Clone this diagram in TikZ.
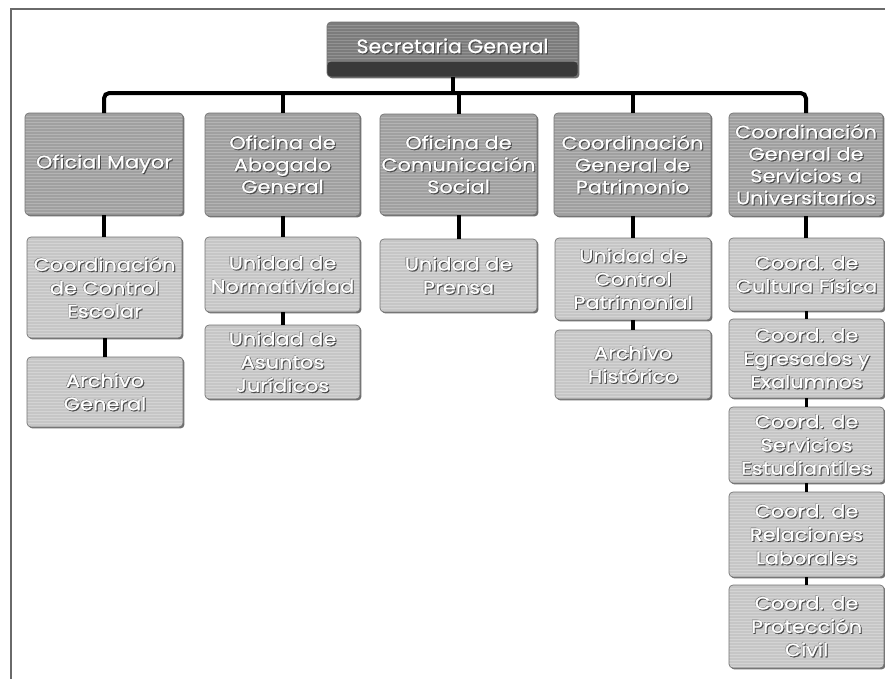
\documentclass[tikz,border=0pt]{standalone}
\usepackage{fontspec}
\newfontfamily\boxfont[FakeStretch=1.16, FakeBold=0.9]{Poppins}
\newfontfamily\topfont[FakeStretch=1.06, FakeBold=0.9]{Poppins}
\usetikzlibrary{shadows}
\definecolor{topfill}{HTML}{7C7C7C}
\definecolor{topband}{HTML}{3A3A3A}
\definecolor{lvlA}{HTML}{A0A0A0}
\definecolor{lvlB}{HTML}{C6C6C6}
\definecolor{tshade}{HTML}{4A4A4A}
\definecolor{framec}{HTML}{6A6A6A}
\newcommand\T[1]{\leavevmode\rlap{\color{tshade}\kern0.8pt\raisebox{-0.8pt}{#1}}\rlap{\color{tshade!70}\kern-0.4pt\raisebox{0.4pt}{#1}}#1}
\newcommand\bx[7]{\node[#6, minimum width={(#4-#2)*0.75pt}, minimum height={(#5-#3)*0.75pt}] (#1) at ({(#2+#4)/2},{(#3+#5)/2}) {#7};}
\tikzset{
  stripes/.style={path picture={\foreach \k in {1,...,45}{\draw[white,opacity=#1,line width=0.5pt] ([yshift=-\k*2.25pt]path picture bounding box.north west) -- ([yshift=-\k*2.25pt]path picture bounding box.north east);}}},
  basebox/.style={rounded corners=3pt, draw=black!55, line width=0.5pt, text=white, align=center,
    inner sep=0pt, outer sep=0pt, drop shadow={shadow xshift=1.1pt, shadow yshift=-1.1pt, fill=black!70, opacity=0.8}},
  boxA/.style={basebox, fill=lvlA, stripes=0.22, font=\boxfont\fontsize{13.5}{16.5}\selectfont},
  boxB/.style={basebox, fill=lvlB, stripes=0.25, font=\boxfont\fontsize{13.5}{17.5}\selectfont},
  topbox/.style={basebox, fill=topfill, font=\topfont\fontsize{14.5}{17}\selectfont,
    path picture={\foreach \k in {1,...,30}{\draw[white,opacity=0.18,line width=0.5pt] ([yshift=-\k*2.25pt]path picture bounding box.north west) -- ([yshift=-\k*2.25pt]path picture bounding box.north east);}
      \fill[topband] (path picture bounding box.south west) rectangle ([yshift=11.5pt]path picture bounding box.south east);}},
  conn/.style={draw=black, line width=3pt},
  connS/.style={draw=black, line width=2.4pt}
}
\begin{document}
\begin{tikzpicture}[x=0.75pt,y=-0.75pt]
\useasboundingbox (0,0) rectangle (885,679);
\fill[white] (0,0) rectangle (885,679);
% frame
\draw[framec, line width=1.5pt] (10,9) -- (885,9);
\draw[framec, line width=1.2pt] (11,9) -- (11,679);
% top
\bx{top}{327}{22}{578}{77}{topbox}{\raisebox{6pt}{\T{Secretaria General}}}
% level 1
\bx{b1}{25}{113}{183}{215}{boxA}{\T{Oficial Mayor}}
\bx{b2}{205}{113}{360}{216}{boxA}{\T{Oficina de}\\\T{Abogado}\\\T{General}}
\bx{b3}{380}{114}{537}{215}{boxA}{\T{Oficina de}\\\T{Comunicación}\\\T{Social}}
\bx{b4}{554}{113}{711}{216}{boxA}{\T{Coordinación}\\\T{General de}\\\T{Patrimonio}}
\bx{b5}{729}{113}{883}{216}{boxA}{\T{Coordinación}\\\T{General de}\\\T{Servicios a}\\\T{Universitarios}}
% level 2
\bx{c11}{27}{237}{182}{338}{boxB}{\T{Coordinación}\\\T{de Control}\\\T{Escolar}}
\bx{c12}{27}{357}{183}{427}{boxB}{\T{Archivo}\\\T{General}}
\bx{c21}{205}{237}{360}{312}{boxB}{\T{Unidad de}\\\T{Normatividad}}
\bx{c22}{205}{325}{360}{399}{boxB}{\T{Unidad de}\\\T{Asuntos}\\\T{Jurídicos}}
\bx{c31}{380}{239}{537}{312}{boxB}{\T{Unidad de}\\\T{Prensa}}
\bx{c41}{555}{238}{711}{320}{boxB}{\T{Unidad de}\\\T{Control}\\\T{Patrimonial}}
\bx{c42}{555}{330}{711}{399}{boxB}{\T{Archivo}\\\T{Histórico}}
\bx{c51}{729}{238}{884}{311}{boxB}{\T{Coord. de}\\\T{Cultura Física}}
\bx{c52}{729}{319}{884}{398}{boxB}{\T{Coord. de}\\\T{Egresados y}\\\T{Exalumnos}}
\bx{c53}{729}{407}{884}{483}{boxB}{\T{Coord. de}\\\T{Servicios}\\\T{Estudiantiles}}
\bx{c54}{729}{492}{884}{577}{boxB}{\T{Coord. de}\\\T{Relaciones}\\\T{Laborales}}
\bx{c55}{729}{585}{884}{668}{boxB}{\T{Coord. de}\\\T{Protección}\\\T{Civil}}
% connectors
\coordinate (bar) at (0,93);
\draw[conn, rounded corners=4pt] (b1.north) -- (b1.north |- bar) -- (b5.north |- bar) -- (b5.north);
\draw[conn] (top.south) -- (top.south |- bar);
\draw[conn] (b2.north) -- (b2.north |- bar);
\draw[conn] (b3.north) -- (b3.north |- bar);
\draw[conn] (b4.north) -- (b4.north |- bar);
\draw[conn] (b1.south) -- (b1.south |- c11.north);
\draw[conn] (c11.south) -- (c11.south |- c12.north);
\draw[conn] (b2.south) -- (b2.south |- c21.north);
\draw[conn] (c21.south) -- (c21.south |- c22.north);
\draw[conn] (b3.south) -- (b3.south |- c31.north);
\draw[conn] (b4.south) -- (b4.south |- c41.north);
\draw[conn] (c41.south) -- (c41.south |- c42.north);
\draw[conn] (b5.south) -- (b5.south |- c51.north);
\draw[connS] (c51.south) -- (c51.south |- c52.north);
\draw[connS] (c52.south) -- (c52.south |- c53.north);
\draw[connS] (c53.south) -- (c53.south |- c54.north);
\draw[connS] (c54.south) -- (c54.south |- c55.north);
\end{tikzpicture}
\end{document}
